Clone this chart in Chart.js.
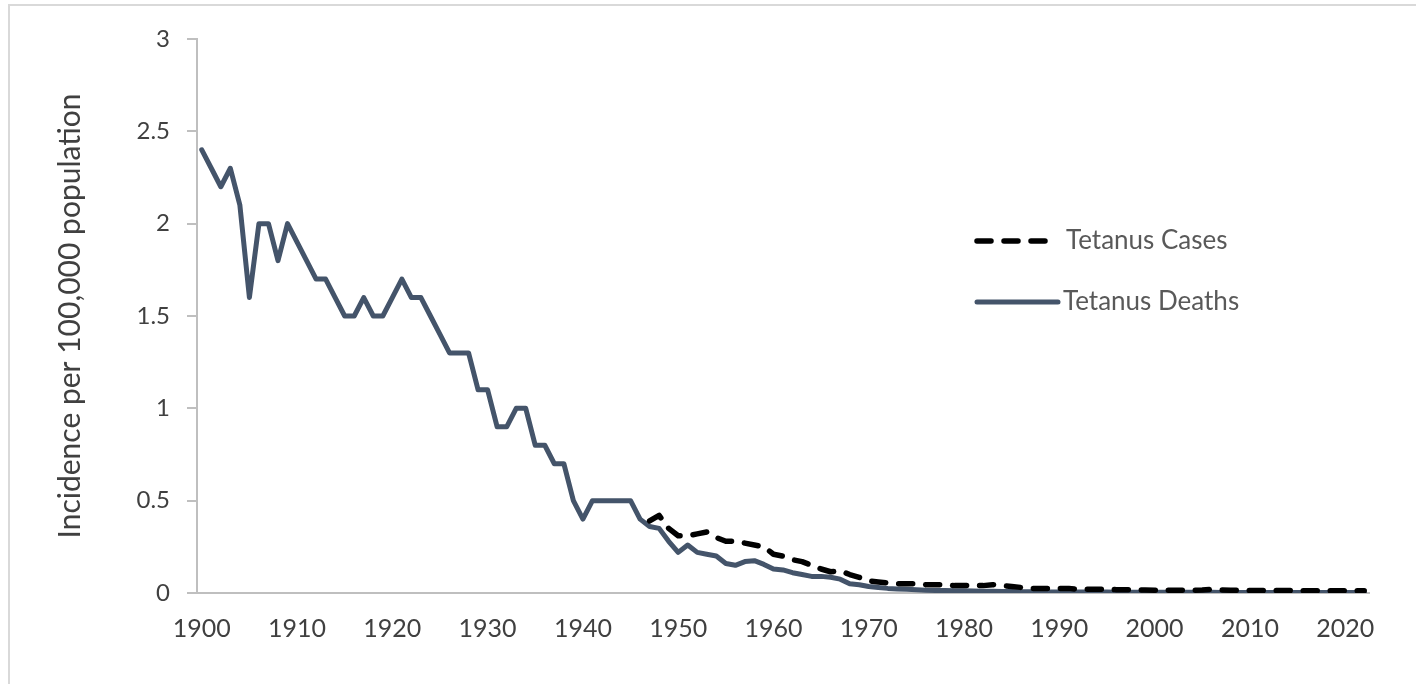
<!DOCTYPE html>
<html>
<head>
<meta charset="utf-8">
<script src="https://cdn.jsdelivr.net/npm/chart.js@4"></script>
<style>
  html, body { margin: 0; padding: 0; background: #fff; }
  canvas { display: block; }
</style>
</head>
<body>
<canvas id="tetanusChart" width="1416" height="684"></canvas>
<script>
// --- data ---
const years = [];
for (let y = 1900; y <= 2022; y++) years.push(String(y));

// deaths per 100,000, 1900-2022
const deaths = [
  2.4, 2.3, 2.2, 2.3, 2.1, 1.6, 2.0, 2.0, 1.8, 2.0,          // 1900s
  1.9, 1.8, 1.7, 1.7, 1.6, 1.5, 1.5, 1.6, 1.5, 1.5,          // 1910s
  1.6, 1.7, 1.6, 1.6, 1.5, 1.4, 1.3, 1.3, 1.3, 1.1,          // 1920s
  1.1, 0.9, 0.9, 1.0, 1.0, 0.8, 0.8, 0.7, 0.7, 0.5,          // 1930s
  0.4, 0.5, 0.5, 0.5, 0.5, 0.5, 0.4, 0.36, 0.35, 0.28,       // 1940s
  0.22, 0.26, 0.22, 0.21, 0.2, 0.16, 0.15, 0.17, 0.175, 0.155, // 1950s
  0.13, 0.125, 0.11, 0.1, 0.09, 0.09, 0.085, 0.075, 0.05, 0.045, // 1960s
  0.035, 0.03, 0.025, 0.022, 0.02, 0.018, 0.015, 0.014, 0.013, 0.012, // 1970s
  0.012, 0.011, 0.01, 0.009, 0.008, 0.008, 0.007, 0.007, 0.006, 0.006, // 1980s
  0.006, 0.005, 0.005, 0.005, 0.005, 0.005, 0.004, 0.004, 0.004, 0.004, // 1990s
  0.004, 0.004, 0.004, 0.004, 0.004, 0.004, 0.004, 0.003, 0.003, 0.003, // 2000s
  0.003, 0.003, 0.003, 0.003, 0.003, 0.003, 0.003, 0.003, 0.003, 0.003, // 2010s
  0.003, 0.003, 0.003                                          // 2020-2022
];

// cases per 100,000, reported from 1947 on
const cases = [
  ...Array(47).fill(null),
  0.39, 0.42, 0.35,                                            // 1947-1949
  0.31, 0.31, 0.32, 0.33, 0.3, 0.28, 0.28, 0.27, 0.26, 0.25,   // 1950s
  0.21, 0.2, 0.18, 0.17, 0.15, 0.13, 0.115, 0.12, 0.1, 0.085,  // 1960s
  0.065, 0.06, 0.055, 0.05, 0.05, 0.05, 0.045, 0.045, 0.045, 0.04, // 1970s
  0.04, 0.04, 0.04, 0.045, 0.04, 0.035, 0.03, 0.025, 0.025, 0.025, // 1980s
  0.025, 0.025, 0.02, 0.02, 0.02, 0.02, 0.018, 0.018, 0.018, 0.016, // 1990s
  0.015, 0.015, 0.015, 0.015, 0.015, 0.016, 0.02, 0.016, 0.015, 0.014, // 2000s
  0.014, 0.013, 0.013, 0.013, 0.013, 0.013, 0.012, 0.012, 0.012, 0.012, // 2010s
  0.012, 0.012, 0.012                                          // 2020-2022
];

const yTicks = [0, 0.5, 1, 1.5, 2, 2.5, 3];

const FONT = 'Lato, "Open Sans", sans-serif';
const AXIS_GREY = '#BFBFBF';
const TEXT_GREY = '#404040';

// outer frame (top and left edges only, like the screenshot)
const framePlugin = {
  id: 'frame',
  beforeDraw(chart) {
    const ctx = chart.ctx;
    ctx.save();
    ctx.strokeStyle = '#D9D9D9';
    ctx.lineWidth = 2;
    ctx.beginPath();
    ctx.moveTo(9, chart.height);
    ctx.lineTo(9, 5);
    ctx.lineTo(chart.width, 5);
    ctx.stroke();
    ctx.restore();
  }
};

// legend sits inside the plot, to the right
const insideLegend = {
  id: 'insideLegend',
  afterDatasetsDraw(chart) {
    const ctx = chart.ctx;
    const rows = [
      { ds: chart.data.datasets[0], x1: 977, x2: 1055, y: 241, tx: 1066 },
      { ds: chart.data.datasets[1], x1: 977, x2: 1058, y: 302, tx: 1063 }
    ];
    ctx.save();
    rows.forEach(r => {
      ctx.beginPath();
      ctx.strokeStyle = r.ds.borderColor;
      ctx.lineWidth = r.ds.borderWidth;
      ctx.lineCap = 'round';
      ctx.setLineDash(r.ds.borderDash || []);
      ctx.moveTo(r.x1, r.y);
      ctx.lineTo(r.x2, r.y);
      ctx.stroke();
      ctx.setLineDash([]);
      ctx.fillStyle = '#595959';
      ctx.font = '26px ' + FONT;
      ctx.textBaseline = 'middle';
      ctx.textAlign = 'left';
      ctx.fillText(r.ds.label, r.tx, r.y);
    });
    ctx.restore();
  }
};

new Chart(document.getElementById('tetanusChart'), {
  type: 'line',
  data: {
    labels: years,
    datasets: [
      {
        label: 'Tetanus Cases',
        data: cases,
        borderColor: '#000000',
        borderWidth: 5.5,
        borderDash: [14, 13],
        borderCapStyle: 'round',
        borderJoinStyle: 'round',
        pointRadius: 0,
        tension: 0,
        spanGaps: false
      },
      {
        label: 'Tetanus Deaths',
        data: deaths,
        borderColor: '#44546A',
        borderWidth: 5,
        borderCapStyle: 'round',
        borderJoinStyle: 'round',
        pointRadius: 0,
        tension: 0
      }
    ]
  },
  options: {
    responsive: false,
    animation: false,
    devicePixelRatio: 1,
    layout: { padding: { left: 52, top: 39, right: 47, bottom: 0 } },
    plugins: {
      legend: { display: false },
      tooltip: { enabled: false }
    },
    scales: {
      x: {
        type: 'category',
        offset: true,
        grid: { display: false },
        border: { display: true, color: AXIS_GREY, width: 2 },
        ticks: {
          autoSkip: false,
          maxRotation: 0,
          padding: 13,
          color: TEXT_GREY,
          font: { family: FONT, size: 25 },
          callback(value, index) {
            const yr = Number(years[index]);
            return yr % 10 === 0 ? years[index] : '';
          }
        },
        afterFit(scale) { scale.height = 91; }
      },
      y: {
        min: 0,
        max: 3,
        afterBuildTicks(scale) { scale.ticks = yTicks.map(v => ({ value: v })); },
        grid: {
          drawOnChartArea: false,
          drawTicks: true,
          tickLength: 10,
          color: AXIS_GREY,
          lineWidth: 2
        },
        border: { display: true, color: AXIS_GREY, width: 2 },
        ticks: {
          padding: 17,
          color: TEXT_GREY,
          font: { family: FONT, size: 24 },
          callback: v => String(v)
        },
        title: {
          display: true,
          text: 'Incidence per 100,000 population',
          color: TEXT_GREY,
          padding: { top: 0, bottom: 0 },
          font: { family: FONT, size: 30 }
        },
        afterFit(scale) { scale.width = 145; }
      }
    }
  },
  plugins: [framePlugin, insideLegend]
});
</script>
</body>
</html>
